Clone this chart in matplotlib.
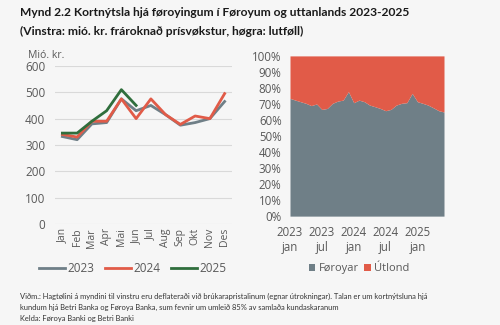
import matplotlib
matplotlib.use("Agg")
import matplotlib.pyplot as plt
import numpy as np

plt.rcParams['font.family'] = ['Open Sans', 'DejaVu Sans']

months = ["Jan", "Feb", "Mar", "Apr", "Mai", "Jun", "Jul", "Aug", "Sep", "Okt", "Nov", "Des"]
y2023 = [332, 320, 380, 385, 475, 430, 450, 415, 375, 385, 400, 465]
y2024 = [340, 330, 390, 390, 475, 400, 475, 415, 378, 410, 400, 495]
y2025 = [345, 345, 390, 430, 510, 450]

share_foroyar = [73.5, 72.4, 71.4, 70.4, 69.0, 70.0, 66.6, 67.2, 70.4, 71.8, 72.4, 77.7,
                 70.8, 72.4, 71.4, 69.3, 68.3, 67.2, 65.8, 66.6, 69.3, 70.4, 70.8, 76.6,
                 71.4, 70.4, 69.3, 67.6, 65.8, 65.0]
share_tick_labels = ["2023\njan", "2023\njul", "2024\njan", "2024\njul", "2025\njan"]

BG = "#f6f6f6"
GREY = "#6f7f87"
RED = "#e15b48"
GREEN = "#2f6e3c"
TXT = "#595959"
LATO = ['Lato', 'DejaVu Sans']

fig = plt.figure(figsize=(5, 3.25), dpi=100, facecolor=BG)

# Title
fig.text(0.04, 0.962, "Mynd 2.2 Kortnýtsla hjá føroyingum í Føroyum og uttanlands 2023-2025",
         fontsize=8.65, fontweight='bold', color="#1a1a1a", va='center', family=LATO)
fig.text(0.04, 0.903, "(Vinstra: mió. kr. frároknað prísvøkstur, høgra: lutføll)",
         fontsize=8.65, fontweight='bold', color="#1a1a1a", va='center', family=LATO)

# Left chart
ax1 = fig.add_axes([0.11, 0.311, 0.354, 0.486], facecolor=BG)
x = np.arange(len(months))
ax1.plot(x, y2023, color=GREY, lw=2, label="2023")
ax1.plot(x, y2024, color=RED, lw=2, label="2024")
ax1.plot(np.arange(len(y2025)), y2025, color=GREEN, lw=2, label="2025")
ax1.set_ylim(0, 600)
ax1.set_yticks(range(0, 601, 100))
ax1.set_xlim(-0.5, 11.5)
ax1.set_xticks(x)
ax1.set_xticklabels(months, rotation=90)
ax1.grid(axis='y', color="#d9d9d9", lw=0.8)
ax1.set_axisbelow(True)
for s in ax1.spines.values():
    s.set_visible(False)
ax1.tick_params(axis='both', length=0, labelsize=7.5, labelcolor=TXT, pad=3)
ax1.tick_params(axis='y', pad=7, labelsize=8.5)
ax1.text(-0.15, 1.03, "Mió. kr.", transform=ax1.transAxes, fontsize=7.5, color=TXT, ha='left', va='bottom')
ax1.legend(loc='center', bbox_to_anchor=(0.44, -0.285), ncol=3, frameon=False,
           fontsize=8.5, labelcolor=TXT, handlelength=2.2, columnspacing=0.9, handletextpad=0.2)

# Right chart
ax2 = fig.add_axes([0.58, 0.335, 0.308, 0.493], facecolor=BG)
n = len(share_foroyar)
xs = np.arange(n)
f = np.array(share_foroyar)
ax2.fill_between(xs, 0, f, color=GREY, lw=0, label="Føroyar")
ax2.fill_between(xs, f, 100, color=RED, lw=0, label="Útlond")
ax2.set_xlim(0, n - 1)
ax2.set_ylim(0, 100)
ax2.set_yticks(range(0, 101, 10))
ax2.set_yticklabels([f"{v}%" for v in range(0, 101, 10)])
ax2.set_xticks([0, 6, 12, 18, 24])
ax2.set_xticklabels(share_tick_labels, linespacing=1.2)
for s in ax2.spines.values():
    s.set_visible(False)
ax2.tick_params(axis='both', length=0, labelsize=8.3, labelcolor=TXT, pad=7)
ax2.tick_params(axis='y', pad=6)
ax2.legend(loc='center', bbox_to_anchor=(0.45, -0.33), ncol=2, frameon=False,
           fontsize=8.0, labelcolor=TXT, handlelength=0.6, handleheight=0.6, columnspacing=0.5, handletextpad=0.3)

# Footnote
fig.text(0.04, 0.089, "Viðm.: Hagtølini á myndini til vinstru eru deflateraði við brúkarapristalinum (egnar útrokningar). Talan er um kortnýtsluna hjá",
         fontsize=5.45, color="#333333", va='center', family=LATO)
fig.text(0.04, 0.053, "kundum hjá Betri Banka og Føroya Banka, sum fevnir um umleið 85% av samlaða kundaskaranum",
         fontsize=5.45, color="#333333", va='center', family=LATO)
fig.text(0.04, 0.021, "Kelda: Føroya Banki og Betri Banki",
         fontsize=5.45, color="#333333", va='center', family=LATO)

fig.savefig("out.png", dpi=100, facecolor=BG)
